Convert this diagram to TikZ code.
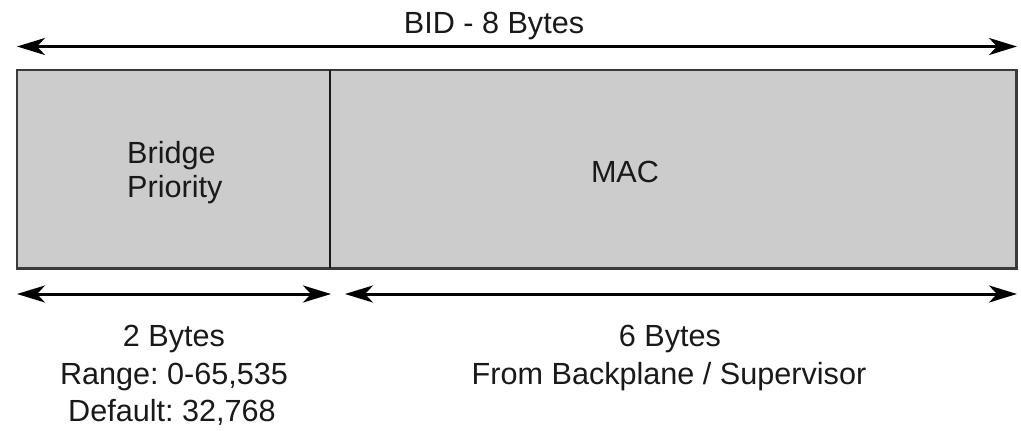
\documentclass[tikz,border=0pt]{standalone}
\usepackage{fontspec}
\setmainfont{Liberation Sans}
\usetikzlibrary{arrows.meta}
\definecolor{boxfill}{HTML}{CCCCCC}
\definecolor{boxedge}{HTML}{3A3A3A}
\frenchspacing
\tikzset{
  lbl/.style={inner sep=0pt, font=\fontsize{30.6}{36}\selectfont, text=black!90},
  dim/.style={line width=3pt, black, {Stealth[length=28pt,width=17pt,inset=8pt]}-{Stealth[length=28pt,width=17pt,inset=8pt]}},
  field/.style={fill=boxfill, draw=none, inner sep=0pt, minimum height=198pt}
}
\begin{document}
\begin{tikzpicture}[x=1pt,y=-1pt]
\useasboundingbox (0,0) rectangle (1021,431);
% fields
\node[field, minimum width=313pt, anchor=north west] (prio) at (17,70) {};
\node[field, minimum width=686pt, anchor=north west] (mac) at (330,70) {};
\draw[boxedge, line width=2.6pt] (prio.north west) rectangle (mac.south east);
\draw[black!90, line width=2pt] (prio.north east) -- (prio.south east);
% texts
\node[lbl, anchor=base] (bid) at (494,34) {BID - 8 Bytes};
\node[lbl, anchor=base west] (bridge) at (127,163) {Bridge};
\node[lbl, anchor=base west] (priority) at (127,197) {Priority};
\node[lbl, anchor=base] (mactxt) at (625,182) {MAC};
\node[lbl, anchor=base] (twob) at (174,346) {2 Bytes};
\node[lbl, anchor=base] (range) at (174,384) {Range: 0-65,535};
\node[lbl, anchor=base] (default) at (172,421) {Default: 32,768};
\node[lbl, anchor=base] (sixb) at (670,346) {6 Bytes};
\node[lbl, anchor=base] (from) at (669,384) {From Backplane / Supervisor};
% dimension arrows
\coordinate (t1) at (17,46.5);
\coordinate (t2) at (1017,46.5);
\coordinate (l1) at (17,294);
\coordinate (l2) at (331,294);
\coordinate (r1) at (345,294);
\coordinate (r2) at (1017,294);
\draw[dim] (t1) -- (t2);
\draw[dim] (l1) -- (l2);
\draw[dim] (r1) -- (r2);
\end{tikzpicture}
\end{document}
